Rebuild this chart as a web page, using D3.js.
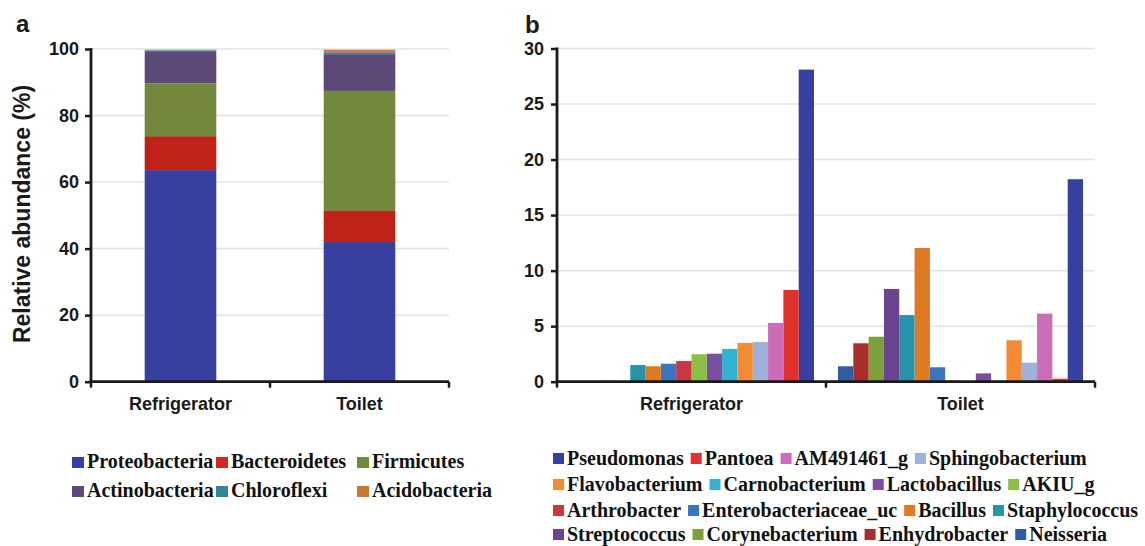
<!DOCTYPE html>
<html>
<head>
<meta charset="utf-8">
<script src="https://cdn.jsdelivr.net/npm/d3@7"></script>
<style>
  html, body { margin: 0; padding: 0; background: #fff; }
  svg { display: block; }
  .ax { font-family: "Liberation Sans", Arial, sans-serif; font-weight: bold; fill: #1a1a1a; }
  .lg { font-family: "Liberation Serif", "Times New Roman", serif; font-weight: bold; fill: #111; }
</style>
</head>
<body>
<svg id="chart" width="1145" height="546"></svg>
<script>
// ---- Panel a: phylum-level relative abundance (%) ----
const sites = ["Refrigerator", "Toilet"];
const phyla = ["Proteobacteria", "Bacteroidetes", "Firmicutes", "Actinobacteria", "Chloroflexi", "Acidobacteria"];
const phylaColors = ["#373F9F", "#BE2219", "#72893D", "#5D4977", "#3A7F98", "#C87A5A"];
const phylaLegendColors = ["#3540A0", "#D0281E", "#6E8B3D", "#5E4A7A", "#33869A", "#C8782F"];
const refrigeratorPhyla = [63.6, 10.2, 15.9, 9.4, 0.5, 0.2];
const toiletPhyla = [42.0, 9.3, 36.1, 10.8, 0.6, 1.0];
const yTicksA = [0, 20, 40, 60, 80, 100];

// ---- Panel b: genus-level abundance ----
const genera = ["Pseudomonas", "Pantoea", "AM491461_g", "Sphingobacterium",
  "Flavobacterium", "Carnobacterium", "Lactobacillus", "AKIU_g",
  "Arthrobacter", "Enterobacteriaceae_uc", "Bacillus", "Staphylococcus",
  "Streptococcus", "Corynebacterium", "Enhydrobacter", "Neisseria"];
const generaColors = ["#3540A0", "#E0322A", "#CC6DBB", "#9EB1D8",
  "#F28B33", "#33B1D2", "#7A4FA2", "#8CBF47",
  "#C8383E", "#3B74C0", "#DD7A22", "#2A93AA",
  "#6A4490", "#7BA23A", "#A82E2E", "#315EA2"];
const refrigeratorGenera = [28.1, 8.26, 5.29, 3.58, 3.49, 2.95, 2.52, 2.47,
  1.86, 1.62, 1.39, 1.5, 0, 0.1, 0, 0];
const toiletGenera = [18.23, 0.27, 6.13, 1.71, 3.73, 0.1, 0.75, 0,
  0.1, 1.3, 12.04, 6.0, 8.35, 4.05, 3.46, 1.39];
const yTicksB = [0, 5, 10, 15, 20, 25, 30];
// legend rows for panel b
const legendRowsB = [
  ["Pseudomonas", "Pantoea", "AM491461_g", "Sphingobacterium"],
  ["Flavobacterium", "Carnobacterium", "Lactobacillus", "AKIU_g"],
  ["Arthrobacter", "Enterobacteriaceae_uc", "Bacillus", "Staphylococcus"],
  ["Streptococcus", "Corynebacterium", "Enhydrobacter", "Neisseria"]
];

const svg = d3.select("#chart");
const axisColor = "#1a1a1a";
const gridColor = "#e3e3e3";

// ================= Panel a =================
(function () {
  const left = 91, right = 449, top = 49, bottom = 381.7;
  const x = d3.scaleBand().domain(sites).range([left, right]).paddingInner(0.6).paddingOuter(0.3);
  const xDiv = d3.scaleBand().domain(sites).range([left, right]);
  const y = d3.scaleLinear().domain([0, 100]).range([bottom, top]);
  const g = svg.append("g");

  // gridlines
  g.selectAll("line.grid").data(yTicksA.filter(d => d > 0)).join("line")
    .attr("x1", left).attr("x2", right)
    .attr("y1", d => y(d)).attr("y2", d => y(d))
    .attr("stroke", gridColor).attr("stroke-width", 1.5);

  // stacked bars
  const rows = sites.map((s, i) => {
    const vals = i === 0 ? refrigeratorPhyla : toiletPhyla;
    const o = { site: s };
    phyla.forEach((p, j) => o[p] = vals[j]);
    return o;
  });
  const stacked = d3.stack().keys(phyla)(rows);
  g.selectAll("g.layer").data(stacked).join("g")
    .attr("fill", (d, i) => phylaColors[i])
    .selectAll("rect").data(d => d).join("rect")
    .attr("x", d => x(d.data.site))
    .attr("width", x.bandwidth())
    .attr("y", d => y(d[1]))
    .attr("height", d => y(d[0]) - y(d[1]));

  // y axis
  const yAxis = d3.axisLeft(y).tickValues(yTicksA).tickSize(6).tickPadding(6);
  const ya = g.append("g").attr("transform", `translate(${left},0)`).call(yAxis);
  ya.select(".domain").remove();
  ya.selectAll(".tick line").attr("stroke", axisColor).attr("stroke-width", 2.5);
  ya.selectAll(".tick text").attr("class", "ax").style("font-size", "18px").attr("fill", axisColor);
  g.append("line").attr("x1", left).attr("x2", left).attr("y1", top - 1).attr("y2", bottom + 1.2)
    .attr("stroke", axisColor).attr("stroke-width", 2.8);

  // x axis
  g.append("line").attr("x1", left - 1.4).attr("x2", right).attr("y1", bottom).attr("y2", bottom)
    .attr("stroke", axisColor).attr("stroke-width", 2.8);
  const divs = [left, xDiv("Toilet"), right];
  g.selectAll("line.xt").data(divs).join("line")
    .attr("x1", d => d).attr("x2", d => d).attr("y1", bottom).attr("y2", bottom + 6)
    .attr("stroke", axisColor).attr("stroke-width", 2.5);
  g.selectAll("text.xl").data(sites).join("text")
    .attr("class", "ax").style("font-size", "18px")
    .attr("x", d => x(d) + x.bandwidth() / 2).attr("y", 410)
    .attr("text-anchor", "middle").text(d => d);

  // axis title and panel tag
  g.append("text").attr("class", "ax").style("font-size", "23px")
    .attr("transform", "translate(30,214) rotate(-90)")
    .attr("text-anchor", "middle").text("Relative abundance (%)");
  g.append("text").attr("class", "ax").style("font-size", "24px")
    .attr("x", 16).attr("y", 32).text("a");

  // legend (3 columns x 2 rows)
  const colX = [72, 216, 357];
  const rowY = [468, 497];
  const lg = g.selectAll("g.lgA").data(phyla).join("g")
    .attr("transform", (d, i) => `translate(${colX[i % 3]},${rowY[Math.floor(i / 3)]})`);
  lg.append("rect").attr("x", 0).attr("y", -11).attr("width", 12).attr("height", 11)
    .attr("fill", (d, i) => phylaLegendColors[i]);
  lg.append("text").attr("class", "lg").style("font-size", "20px")
    .attr("x", 15).attr("y", 0).text(d => d);
})();

// ================= Panel b =================
(function () {
  const left = 557, right = 1095, top = 48.5, bottom = 381.7;
  const xDiv = d3.scaleBand().domain(sites).range([left, right]);
  const inner = 12;
  const x1 = d3.scaleBand().domain(genera.slice().reverse())
    .range([0, xDiv.bandwidth() - 2 * inner]);
  const y = d3.scaleLinear().domain([0, 30]).range([bottom, top]);
  const g = svg.append("g");

  g.selectAll("line.grid").data(yTicksB.filter(d => d > 0)).join("line")
    .attr("x1", left).attr("x2", right)
    .attr("y1", d => y(d)).attr("y2", d => y(d))
    .attr("stroke", gridColor).attr("stroke-width", 1.5);

  const groups = g.selectAll("g.grp").data(sites).join("g")
    .attr("transform", d => `translate(${xDiv(d) + inner},0)`);
  groups.selectAll("rect").data((s, i) => {
    const vals = i === 0 ? refrigeratorGenera : toiletGenera;
    return genera.map((name, j) => ({ name, value: vals[j], color: generaColors[j] }));
  }).join("rect")
    .attr("x", d => x1(d.name))
    .attr("width", x1.bandwidth())
    .attr("y", d => y(d.value))
    .attr("height", d => bottom - y(d.value))
    .attr("fill", d => d.color);

  const yAxis = d3.axisLeft(y).tickValues(yTicksB).tickSize(6).tickPadding(7);
  const ya = g.append("g").attr("transform", `translate(${left},0)`).call(yAxis);
  ya.select(".domain").remove();
  ya.selectAll(".tick line").attr("stroke", axisColor).attr("stroke-width", 2.5);
  ya.selectAll(".tick text").attr("class", "ax").style("font-size", "18px").attr("fill", axisColor);
  g.append("line").attr("x1", left).attr("x2", left).attr("y1", top - 1).attr("y2", bottom + 1.2)
    .attr("stroke", axisColor).attr("stroke-width", 2.8);

  g.append("line").attr("x1", left - 1.4).attr("x2", right).attr("y1", bottom).attr("y2", bottom)
    .attr("stroke", axisColor).attr("stroke-width", 2.8);
  const divs = [left, xDiv("Toilet"), right];
  g.selectAll("line.xt").data(divs).join("line")
    .attr("x1", d => d).attr("x2", d => d).attr("y1", bottom).attr("y2", bottom + 6)
    .attr("stroke", axisColor).attr("stroke-width", 2.5);
  g.selectAll("text.xl").data(sites).join("text")
    .attr("class", "ax").style("font-size", "18px")
    .attr("x", d => xDiv(d) + xDiv.bandwidth() / 2).attr("y", 410)
    .attr("text-anchor", "middle").text(d => d);

  g.append("text").attr("class", "ax").style("font-size", "24px")
    .attr("x", 525).attr("y", 33).text("b");

  // legend: flowing rows
  const rowY = [465, 491, 517, 541];
  legendRowsB.forEach((row, r) => {
    let cx = 553;
    row.forEach(name => {
      const j = genera.indexOf(name);
      const it = g.append("g").attr("transform", `translate(${cx},${rowY[r]})`);
      it.append("rect").attr("x", 0).attr("y", -12).attr("width", 11).attr("height", 11)
        .attr("fill", generaColors[j]);
      const t = it.append("text").attr("class", "lg").style("font-size", "20px")
        .attr("x", 14).attr("y", 0).text(name);
      cx += 14 + t.node().getComputedTextLength() + 7;
    });
  });
})();
</script>
</body>
</html>
